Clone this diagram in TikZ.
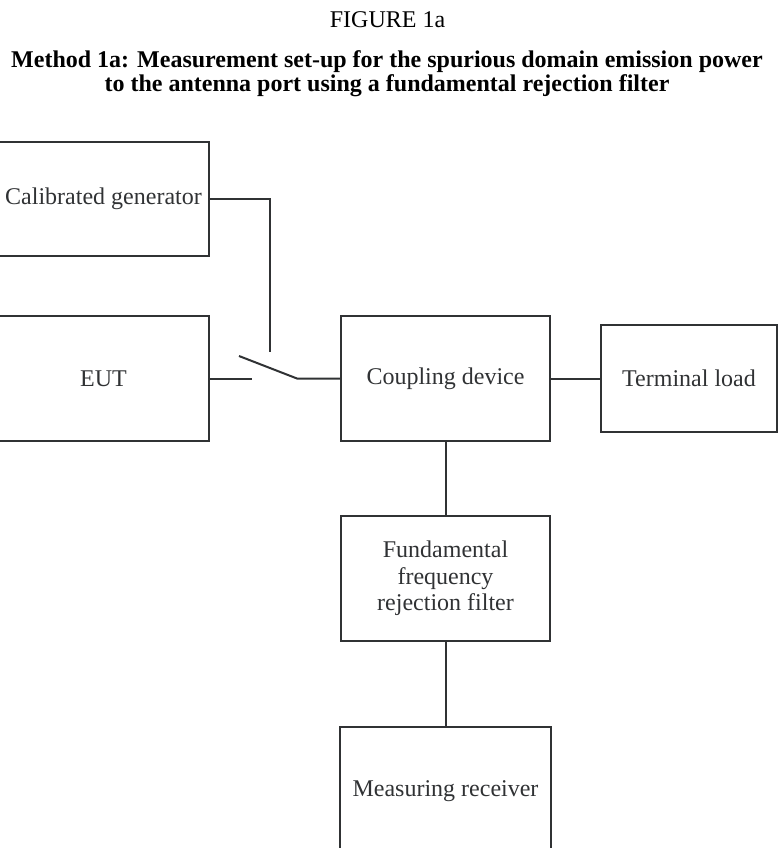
\documentclass[tikz,border=0pt]{standalone}
\usepackage{fontspec}
\setmainfont{Liberation Serif}
\definecolor{ink}{HTML}{303234}
\begin{document}
\begin{tikzpicture}[x=1pt,y=1pt,
  blk/.style={draw=ink,line width=2pt,text=ink,align=center,inner sep=0pt,
    font=\fontsize{24}{26.5}\selectfont},
  ttl/.style={text=black,anchor=base,inner sep=0pt},
  wire/.style={draw=ink,line width=2pt}]
\useasboundingbox (0,0) rectangle (778,-848);
\clip (0,0) rectangle (778,-848);
\node[ttl,font=\fontsize{24}{26}\selectfont] (fig) at (387.5,-28) {FIGURE 1a};
\node[ttl,font=\fontsize{24}{26}\selectfont\bfseries] (cap1) at (387,-67.5)
  {Method 1a: Measurement set-up for the spurious domain emission power};
\node[ttl,font=\fontsize{24}{26}\selectfont\bfseries] (cap2) at (387,-92)
  {to the antenna port using a fundamental rejection filter};
\node[blk,minimum width=211pt,minimum height=114pt] (gen) at (103.5,-199) {Calibrated generator};
\node[blk,minimum width=211pt,minimum height=125pt] (eut) at (103.5,-378.5) {EUT};
\node[blk,minimum width=209pt,minimum height=125pt] (coup) at (445.5,-378.5) {Coupling device};
\node[blk,minimum width=176pt,minimum height=107pt] (term) at (689,-378.5) {Terminal load};
\node[blk,minimum width=209pt,minimum height=125pt] (filt) at (445.5,-578.5) {Fundamental\\frequency\\rejection filter};
\node[blk,minimum width=211pt,minimum height=128pt] (recv) at (445.5,-791) {Measuring receiver};
\coordinate (swtop) at (270,-352);
\coordinate (eutend) at (252,-378.5);
\coordinate (blade) at (239,-356);
\coordinate (pivot) at (297,-378.5);
\draw[wire] (gen.east) -| (swtop);
\draw[wire] (eut.east) -- (eutend);
\draw[wire] (blade) -- (pivot) -- (coup.west);
\draw[wire] (coup.east) -- (term.west);
\draw[wire] (coup.south) -- (filt.north);
\draw[wire] (filt.south) -- (recv.north);
\end{tikzpicture}
\end{document}
